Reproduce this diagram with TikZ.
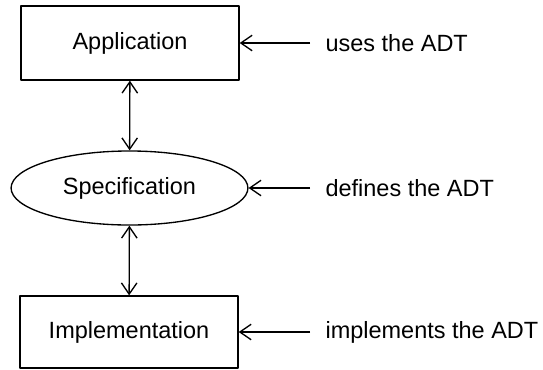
\documentclass[tikz,border=0pt]{standalone}
\usepackage{fontspec}
\setmainfont{Liberation Sans}
\usepackage{tikz}
\usetikzlibrary{arrows.meta,shapes.geometric}
\tikzset{fig/.style={line join=round,line width=0.95pt,>={Straight Barb[length=8pt,width=11pt]}},
 part/.style={draw,minimum width=5.45cm,minimum height=1.85cm},
 note/.style={anchor=west,inner xsep=10.6pt,inner ysep=1pt}}

\begin{document}
\begin{tikzpicture}[fig,x=0.025cm,y=-0.025cm,font=\fontsize{16.7}{20}\selectfont]
 \useasboundingbox(0,0)rectangle(543,369);
 \node[part](app)at(130,43){Application};
 \node[draw,ellipse,minimum width=5.92cm,minimum height=1.85cm](spec)at(129.5,188){Specification};
 \node[part,minimum height=1.8cm](impl)at(129,332){Implementation};
 \node[note](uses)at(310,43){uses the ADT};
 \node[note](defs)at(310,188){defines the ADT};
 \node[note](impls)at(310,332){implements the ADT};
 \draw[<->](app)--(spec);\draw[<->](spec)--(impl);
 \foreach \a/\b in {uses/app,defs/spec,impls/impl} \draw[->](\a.west)--(\b.east);
\end{tikzpicture}
\end{document}
